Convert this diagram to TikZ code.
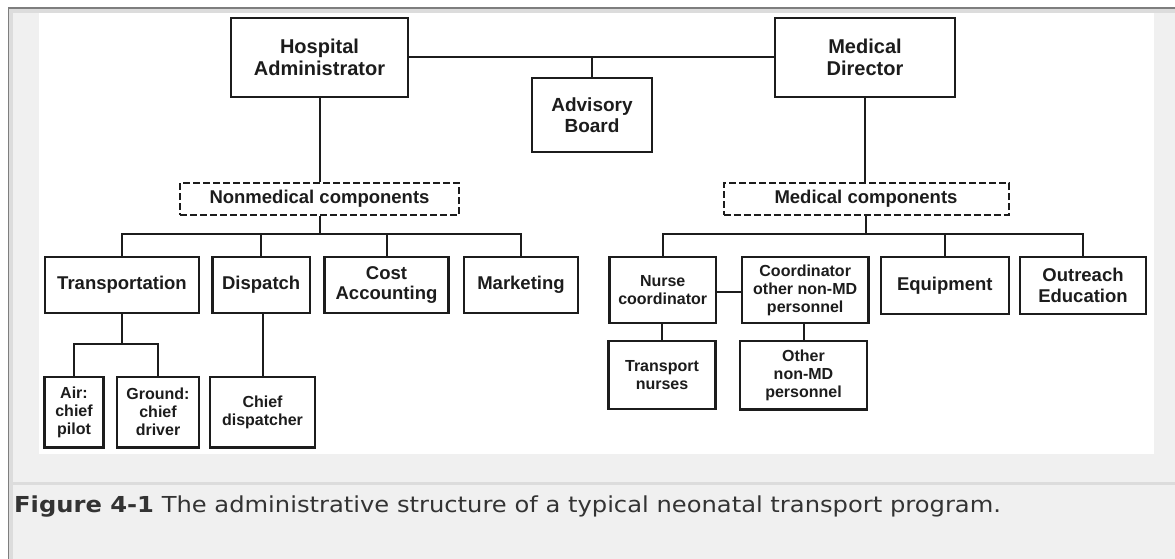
\documentclass[tikz,border=0pt]{standalone}
\usepackage{fontspec}
\setmainfont{Liberation Sans}
\newfontfamily\capfont[FakeStretch=1.1]{DejaVu Sans}
\usetikzlibrary{calc}
\definecolor{ink}{HTML}{1C1C1C}
\definecolor{panel}{HTML}{F0F0F0}
\definecolor{rulegray}{HTML}{DCDCDC}
\definecolor{frameline}{HTML}{7E7E7E}
\definecolor{captext}{HTML}{333333}

\begin{document}
\begin{tikzpicture}[x=1pt,y=-1pt,
  box/.style={draw=ink, line width=2.2pt, inner sep=0pt, align=center, text=ink},
  big/.style={font=\fontsize{20}{22}\selectfont\bfseries},
  mid/.style={font=\fontsize{18.5}{20.5}\selectfont\bfseries},
  small/.style={font=\fontsize{16}{18}\selectfont\bfseries},
  dbox/.style={box, line width=2pt, dash pattern=on 7pt off 3pt},
  link/.style={draw=ink, line width=2pt},
]
\useasboundingbox (0,0) rectangle (1175,559);

% page background, frame and figure panel
\fill[white] (0,0) rectangle (1175,559);
\fill[panel] (8,8) rectangle (1175,559);
\draw[rulegray, line width=3.5pt] (10.8,559) -- (10.8,10.8) -- (1175,10.8);
\draw[frameline, line width=1.5pt] (8.25,559) -- (8.25,8.25) -- (1175,8.25);
\fill[white] (39,12.7) rectangle (1154,454);
\fill[rulegray] (12,481.5) rectangle (1175,484.5);

% top level
\node[box, big, minimum width=177pt, minimum height=79pt] (ha) at (319.5,57.5) {Hospital\\Administrator};
\node[box, big, minimum width=180pt, minimum height=79pt] (md) at (865,57.5) {Medical\\Director};
\node[box, font=\fontsize{19}{21}\selectfont\bfseries, minimum width=120pt, minimum height=74pt] (adv) at (592,115) {Advisory\\Board};

% component groups
\node[dbox, mid, minimum width=279pt, minimum height=32pt] (nonmed) at (319.5,199) {Nonmedical components};
\node[dbox, mid, minimum width=285pt, minimum height=32pt] (med) at (866,199) {Medical components};

% nonmedical units
\node[box, mid, minimum width=154pt, minimum height=56.6pt] (trans) at (122,285) {Transportation};
\node[box, mid, minimum width=97.6pt, minimum height=56.6pt] (disp) at (261.2,285) {Dispatch};
\node[box, mid, minimum width=124pt, minimum height=56.6pt] (cost) at (386.5,285) {Cost\\Accounting};
\node[box, mid, minimum width=114pt, minimum height=56.6pt] (mkt) at (521,285) {Marketing};

\node[box, small, minimum width=59pt, minimum height=70.5pt] (air) at (74,412.2) {Air:\\chief\\pilot};
\node[box, small, minimum width=82pt, minimum height=70.5pt] (ground) at (158,412.2) {Ground:\\chief\\driver};
\node[box, small, minimum width=105pt, minimum height=70.5pt] (chief) at (262.5,412.2) {Chief\\dispatcher};

% medical units
\node[box, small, minimum width=106.6pt, minimum height=66.3pt] (nurse) at (662.7,289.9) {Nurse\\coordinator};
\node[box, small, minimum width=126.5pt, minimum height=66.3pt] (coord) at (805.2,289.9) {Coordinator\\other non-MD\\personnel};
\node[box, mid, minimum width=127.6pt, minimum height=57.3pt] (equip) at (944.8,285.3) {Equipment};
\node[box, mid, minimum width=126pt, minimum height=57.3pt] (outr) at (1083,285.3) {Outreach\\Education};
\node[box, small, minimum width=107pt, minimum height=68.6pt] (tnurse) at (662,375) {Transport\\nurses};
\node[box, small, minimum width=127pt, minimum height=68.8pt] (other) at (803.5,375) {Other\\non-MD\\personnel};

% connectors
\coordinate (nbar) at (319.5,234);
\coordinate (mbar) at (866,234);
\coordinate (tbar) at (122,344);

\draw[link] (ha.east) -- (md.west);
\draw[link] (adv.north) -- (adv.north |- ha.east);
\draw[link] (ha.south) -- (nonmed.north);
\draw[link] (md.south) -- (md.south |- med.north);

\draw[link] (nonmed.south) -- (nonmed.south |- nbar);
\draw[link] (trans.north) |- (nbar) -| (mkt.north);
\draw[link] (disp.north) -- (disp.north |- nbar);
\draw[link] (cost.north) -- (cost.north |- nbar);

\draw[link] (trans.south) -- (trans.south |- tbar);
\draw[link] (air.north) |- (tbar) -| (ground.north);
\draw[link] (chief.north) -- (chief.north |- disp.south);

\draw[link] (med.south) -- (med.south |- mbar);
\draw[link] (nurse.north) |- (mbar) -| (outr.north);
\draw[link] (equip.north) -- (equip.north |- mbar);
\draw[link] ($(nurse.east)+(0,2)$) -- ($(coord.west)+(0,2)$);
\draw[link] (tnurse.north) -- (tnurse.north |- nurse.south);
\draw[link] (other.north) -- (other.north |- coord.south);

% caption
\node[anchor=base west, inner sep=0pt, text=captext, font=\capfont\fontsize{22}{26}\selectfont] (cap) at (14,512)
  {\textbf{Figure 4-1} The administrative structure of a typical neonatal transport program.};
\end{tikzpicture}
\end{document}
